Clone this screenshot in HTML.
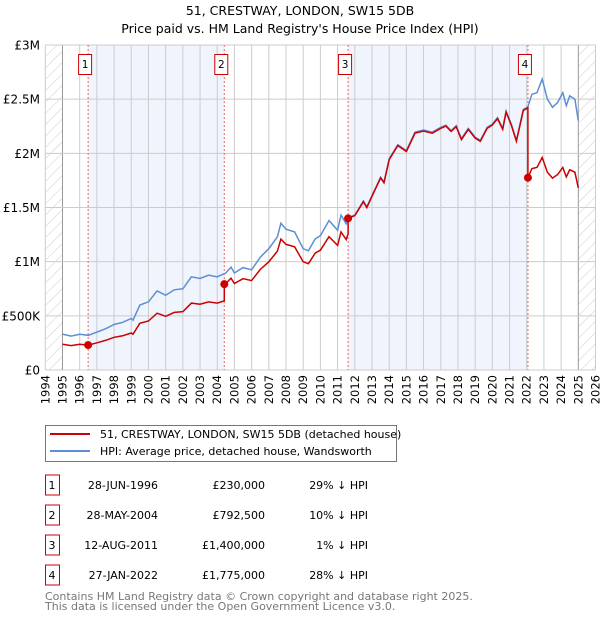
<!DOCTYPE html>
<html><head><meta charset="utf-8"><style>
body{margin:0;background:#fff;font-family:"Liberation Sans","DejaVu Sans",sans-serif;}
svg text{font-family:"DejaVu Sans","Liberation Sans",sans-serif;}
</style></head><body>
<svg id="c" width="600" height="620" xmlns="http://www.w3.org/2000/svg">
<defs><pattern id="hatch" width="8" height="8" patternUnits="userSpaceOnUse" patternTransform="rotate(45)"><line x1="0" y1="0" x2="0" y2="8" stroke="#ccc" stroke-width="1"/></pattern></defs>
<text x="300" y="15" text-anchor="middle" font-size="12.5">51, CRESTWAY, LONDON, SW15 5DB</text>
<text x="300" y="33" text-anchor="middle" font-size="12.5">Price paid vs. HM Land Registry's House Price Index (HPI)</text>
<g id="plot"></g>
<g>
<rect x="45.5" y="425.5" width="351" height="36" fill="#fff" stroke="#777"/>
<line x1="50" y1="434" x2="90" y2="434" stroke="#cc0000" stroke-width="2"/>
<text x="100" y="438" font-size="11">51, CRESTWAY, LONDON, SW15 5DB (detached house)</text>
<line x1="50" y1="451" x2="90" y2="451" stroke="#5b8fd4" stroke-width="2"/>
<text x="100" y="455" font-size="11">HPI: Average price, detached house, Wandsworth</text>
</g>
<g id="table" font-size="11"></g>
<text x="45" y="600" font-size="11" fill="#777">Contains HM Land Registry data © Crown copyright and database right 2025.</text>
<text x="45" y="610" font-size="11" fill="#777">This data is licensed under the Open Government Licence v3.0.</text>
</svg>
<script>
const hpiYears=[1995,1995.5,1996,1996.5,1997,1997.5,1998,1998.5,1999,1999.1,1999.5,2000,2000.5,2001,2001.5,2002,2002.5,2003,2003.5,2004,2004.5,2004.8,2005,2005.5,2006,2006.5,2007,2007.5,2007.7,2008,2008.5,2009,2009.3,2009.7,2010,2010.5,2011,2011.2,2011.5,2011.6,2012,2012.5,2012.7,2013,2013.5,2013.7,2014,2014.5,2015,2015.5,2016,2016.5,2017,2017.3,2017.6,2017.9,2018.2,2018.6,2019,2019.3,2019.7,2020,2020.3,2020.6,2020.8,2021.1,2021.4,2021.8,2022.07,2022.3,2022.6,2022.9,2023.2,2023.5,2023.8,2024.1,2024.3,2024.5,2024.8,2025.0];
const hpiValues=[0.331,0.313,0.33,0.32,0.35,0.38,0.42,0.44,0.475,0.46,0.6,0.63,0.73,0.69,0.74,0.75,0.86,0.845,0.875,0.86,0.895,0.95,0.895,0.945,0.925,1.04,1.12,1.23,1.355,1.30,1.275,1.12,1.10,1.21,1.24,1.38,1.29,1.43,1.35,1.405,1.43,1.56,1.505,1.61,1.78,1.735,1.95,2.08,2.025,2.195,2.215,2.195,2.24,2.26,2.21,2.255,2.135,2.23,2.15,2.12,2.24,2.27,2.33,2.23,2.39,2.27,2.12,2.405,2.43,2.545,2.56,2.685,2.5,2.425,2.47,2.56,2.44,2.53,2.5,2.30];
const saleYears=[1996.49,2004.41,2011.61,2022.07];
const salePrices=[0.23,0.7925,1.40,1.775];
const saleLabels=["1","2","3","4"];
const saleDates=["28-JUN-1996","28-MAY-2004","12-AUG-2011","27-JAN-2022"];
const salePriceText=["£230,000","£792,500","£1,400,000","£1,775,000"];
const saleHpiText=["29% ↓ HPI","10% ↓ HPI","1% ↓ HPI","28% ↓ HPI"];
const yTicks=[0,0.5,1,1.5,2,2.5,3];
const yTickLabels=["£0","£500K","£1M","£1.5M","£2M","£2.5M","£3M"];
const NS="http://www.w3.org/2000/svg";
const X0=45.3,X1=595.5,Y0=370,Y1=45;
const xs=y=>X0+(y-1994)/32*(X1-X0);
const ys=v=>Y0-v/3*(Y0-Y1);
const plot=document.getElementById('plot');
function mk(tag,attrs,parent){const e=document.createElementNS(NS,tag);for(const k in attrs)e.setAttribute(k,attrs[k]);(parent||plot).appendChild(e);return e;}
function hpiAt(t){for(let i=0;i<hpiYears.length-1;i++){if(t<=hpiYears[i+1]){const f=(t-hpiYears[i])/(hpiYears[i+1]-hpiYears[i]);return hpiValues[i]+f*(hpiValues[i+1]-hpiValues[i]);}}return hpiValues[hpiValues.length-1];}
// shading
for(let i=0;i<saleYears.length;i+=2){const a=saleYears[i],b=saleYears[i+1];
const r=mk('rect',{x:xs(a),y:Y1,width:xs(b)-xs(a),height:Y0-Y1,fill:'#f0f4fd'});

}
let h1=mk('rect',{x:X0,y:Y1,width:xs(1995)-X0,height:Y0-Y1,fill:'url(#hatch)'});


let h2=mk('rect',{x:xs(2025),y:Y1,width:X1-xs(2025),height:Y0-Y1,fill:'url(#hatch)'});


// grid
for(let y=1994;y<=2026;y++){const x=xs(y);
const g=mk('line',{x1:x,y1:Y1,x2:x,y2:Y0,stroke:(y==1995||y==2025)?'#999':'#ccc','stroke-width':1});


const t=mk('text',{x:0,y:0,'font-size':11.5,'text-anchor':'end',transform:`translate(${x+4},375) rotate(-90)`});
t.textContent=y;

}
yTicks.forEach((v,i)=>{const y=ys(v);
const g=mk('line',{x1:X0,y1:y,x2:X1,y2:y,stroke:'#ccc','stroke-width':1});


const t=mk('text',{x:40,y:y+4.5,'font-size':12,'text-anchor':'end'});
t.textContent=yTickLabels[i];

});
// sale vlines and boxes
saleYears.forEach((s,i)=>{const x=xs(s);
const l=mk('line',{x1:x,y1:Y1,x2:x,y2:Y0,stroke:'#e66','stroke-width':1,'stroke-dasharray':'2,2'});


const b=mk('rect',{x:x-9.5,y:54.5,width:13,height:20,fill:'#fff',stroke:'#cc0000'});


const t=mk('text',{x:x-3,y:68,'font-size':10.5,'text-anchor':'middle'});
t.textContent=saleLabels[i];

});
// HPI line
const hp=mk('path',{d:hpiYears.map((t,i)=>(i?'L':'M')+xs(t).toFixed(1)+','+ys(hpiValues[i]).toFixed(1)).join(''),fill:'none',stroke:'#5b8fd4','stroke-width':1.5});


// property line: HPI scaled by each sale's ratio
let pts=[];
const allT=[...hpiYears,...saleYears].sort((a,b)=>a-b);
allT.forEach(t=>{let k=0;for(let j=0;j<saleYears.length;j++)if(t>=saleYears[j])k=j;
const f=salePrices[k]/hpiAt(saleYears[k]);
if(saleYears.includes(t)&&k>0){const pk=k-1;pts.push([t,hpiAt(t)*salePrices[pk]/hpiAt(saleYears[pk])]);}
pts.push([t,hpiAt(t)*f]);});
const pp=mk('path',{d:pts.map((p,i)=>(i?'L':'M')+xs(p[0]).toFixed(1)+','+ys(p[1]).toFixed(1)).join(''),fill:'none',stroke:'#cc0000','stroke-width':1.5});


saleYears.forEach((s,i)=>{const c=mk('circle',{cx:xs(s),cy:ys(salePrices[i]),r:4,fill:'#cc0000'});

});
// table
const tb=document.getElementById('table');
saleYears.forEach((s,i)=>{const y=485+i*30;
const b=mk('rect',{x:45.5,y:y-10,width:14,height:20,fill:'#fff',stroke:'#cc0000'},tb);


const cells=[[52,'middle',saleLabels[i]],[158,'end',saleDates[i]],[265,'end',salePriceText[i]],[368,'end',saleHpiText[i]]];
cells.forEach(c=>{const t=mk('text',{x:c[0],y:y+4,'text-anchor':c[1]},tb);t.textContent=c[2];

});});
</script>
</body></html>
